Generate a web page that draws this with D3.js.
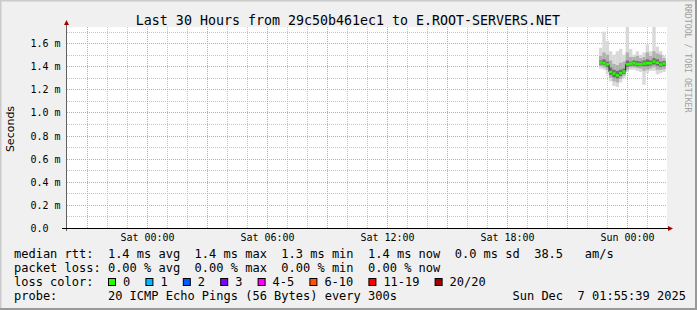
<!DOCTYPE html>
<html><head><meta charset="utf-8">
<script src="https://cdn.jsdelivr.net/npm/d3@7"></script>
<style>
html,body{margin:0;padding:0;background:#f0f0f0;}
svg{display:block;}
text{font-family:"DejaVu Sans Mono",monospace;fill:#000;}
</style>
</head><body>
<svg id="chart" width="697" height="310"></svg>
<script>
// ---------- data ----------
const titleText = "Last 30 Hours from 29c50b461ec1 to E.ROOT-SERVERS.NET";
const yAxisTitle = "Seconds";
const watermark = "RRDTOOL / TOBI OETIKER";
const yTickValues = [0, 0.2, 0.4, 0.6, 0.8, 1.0, 1.2, 1.4, 1.6];
const yTickLabels = ["0.0  ", "0.2 m", "0.4 m", "0.6 m", "0.8 m", "1.0 m", "1.2 m", "1.4 m", "1.6 m"];
const timeStart = new Date(2025, 11, 5, 20, 0);
const timeEnd = new Date(2025, 11, 7, 2, 0);
const sampleStart = new Date(2025, 11, 6, 22, 36);
const sampleStepMinutes = 10;
// RTT values in ms (axis shows "m" = milliseconds of seconds)
const rttMin    = [1.38,1.37,1.33,1.27,1.23,1.22,1.26,1.30,1.35,1.37,1.37,1.36,1.35,1.24,1.34,1.36,1.36,1.33,1.34,1.35];
const rttP10    = [1.40,1.39,1.37,1.30,1.27,1.26,1.29,1.32,1.37,1.39,1.39,1.385,1.38,1.36,1.37,1.38,1.39,1.37,1.37,1.375];
const rttP25    = [1.415,1.41,1.395,1.325,1.305,1.295,1.315,1.335,1.395,1.405,1.405,1.40,1.40,1.40,1.40,1.405,1.415,1.405,1.395,1.40];
const rttMedian = [1.432,1.426,1.417,1.35,1.337,1.322,1.34,1.354,1.417,1.423,1.426,1.42,1.417,1.423,1.426,1.426,1.44,1.43,1.415,1.423];
const rttP75    = [1.45,1.46,1.44,1.39,1.37,1.36,1.37,1.38,1.45,1.44,1.45,1.445,1.44,1.45,1.46,1.45,1.47,1.46,1.44,1.445];
const rttP90    = [1.49,1.52,1.50,1.45,1.42,1.41,1.43,1.44,1.52,1.48,1.48,1.49,1.47,1.48,1.52,1.49,1.53,1.51,1.50,1.47];
const rttMax    = [1.56,1.70,1.62,1.53,1.50,1.53,1.55,1.50,1.75,1.55,1.50,1.53,1.50,1.52,1.59,1.53,1.75,1.57,1.53,1.49];
const lossLabels = ["0", "1", "2", "3", "4-5", "6-10", "11-19", "20/20"];
const lossColors = ["#26ff00", "#00b8ff", "#0059ff", "#7e00ff", "#ff00ff", "#ff5500", "#ff0000", "#a10000"];
const legendLine1 = "median rtt:  1.4 ms avg  1.4 ms max  1.3 ms min  1.4 ms now  0.0 ms sd  38.5   am/s";
const legendLine2 = "packet loss: 0.00 % avg  0.00 % max  0.00 % min  0.00 % now";
const legendLossTitle = "loss color:";
const legendProbe = "probe:       20 ICMP Echo Pings (56 Bytes) every 300s";
const legendDate = "Sun Dec  7 01:55:39 2025";

// ---------- drawing ----------
const svg = d3.select("#chart");
const W = 697, H = 310;
const L = 67, R = 667, T = 27, B = 228;

svg.append("rect").attr("width", W).attr("height", H).attr("fill", "#f0f0f0");
// frame shading
svg.append("path").attr("d", `M0.5,${H} V0.5 H${W}`).attr("stroke", "#cbcbcb").attr("stroke-width", 2).attr("fill", "none");
svg.append("path").attr("d", `M0,${H-1} H${W-1} V0`).attr("stroke", "#999999").attr("stroke-width", 2).attr("fill", "none");

const x = d3.scaleTime().domain([timeStart, timeEnd]).range([L, R]);
const y = d3.scaleLinear().domain([0, 1.74]).range([B, T]);
const px = v => Math.round(x(v)) + 0.5;
const py = v => Math.round(y(v)) + 0.5;

svg.append("rect").attr("x", L).attr("y", T).attr("width", R - L).attr("height", B - T).attr("fill", "#ffffff");

const g = svg.append("g");
// minor grid
const minorX = d3.timeHour.every(1).range(timeStart, timeEnd).filter(d => d > timeStart);
const majorX = d3.timeHour.every(3).range(timeStart, timeEnd).filter(d => d > timeStart);
const minorY = d3.range(1, 18).map(i => i * 0.1).filter(v => y(v) > T);
g.selectAll(".mx").data(minorX).join("line")
  .attr("x1", d => px(d)).attr("x2", d => px(d)).attr("y1", T).attr("y2", B)
  .attr("stroke", "#c4c4c4").attr("stroke-dasharray", "1,1");
g.selectAll(".my").data(minorY).join("line")
  .attr("x1", L).attr("x2", R).attr("y1", d => py(d)).attr("y2", d => py(d))
  .attr("stroke", "#c4c4c4").attr("stroke-dasharray", "1,1");
// major grid
g.selectAll(".Mx").data(majorX).join("line")
  .attr("x1", d => px(d)).attr("x2", d => px(d)).attr("y1", T).attr("y2", B)
  .attr("stroke", "#e89a9a").attr("stroke-dasharray", "1,1");
g.selectAll(".My").data(yTickValues.filter(v => v > 0)).join("line")
  .attr("x1", L).attr("x2", R).attr("y1", d => py(d)).attr("y2", d => py(d))
  .attr("stroke", "#e89a9a").attr("stroke-dasharray", "1,1");

// samples
const samples = rttMedian.map((m, i) => ({
  t0: d3.timeMinute.offset(sampleStart, i * sampleStepMinutes),
  t1: d3.timeMinute.offset(sampleStart, (i + 1) * sampleStepMinutes),
  min: rttMin[i], p10: rttP10[i], p25: rttP25[i], med: m, p75: rttP75[i], p90: rttP90[i], max: rttMax[i]
}));
const bands = [["min", "max", "#d9d9d9"], ["p10", "p90", "#b0b0b0"], ["p25", "p75", "#707070"]];
bands.forEach(([lo, hi, col]) => {
  g.selectAll(null).data(samples).join("rect")
    .attr("x", d => x(d.t0)).attr("width", d => x(d.t1) - x(d.t0))
    .attr("y", d => y(Math.min(d[hi], 1.74))).attr("height", d => y(d[lo]) - y(Math.min(d[hi], 1.74)))
    .attr("fill", col);
});
// median step line (dark)
const stepLine = d3.line().curve(d3.curveStepAfter).x(d => d[0]).y(d => d[1]);
const pts = samples.map(d => [x(d.t0), y(d.med)]);
pts.push([x(samples[samples.length - 1].t1), y(samples[samples.length - 1].med)]);
g.append("path").attr("d", stepLine(pts)).attr("fill", "none").attr("stroke", "#202020").attr("stroke-width", 1);
// loss-colored median segments
g.selectAll(null).data(samples).join("line")
  .attr("x1", d => x(d.t0)).attr("x2", d => x(d.t1))
  .attr("y1", d => y(d.med)).attr("y2", d => y(d.med))
  .attr("stroke", lossColors[0]).attr("stroke-width", 2.5);

// axes
svg.append("line").attr("x1", L - 0.5).attr("x2", L - 0.5).attr("y1", 23).attr("y2", B + 3)
  .attr("stroke", "#606060");
svg.append("line").attr("x1", L - 5).attr("x2", R + 2).attr("y1", B + 0.5).attr("y2", B + 0.5)
  .attr("stroke", "#000");
svg.append("path").attr("d", `M${L - 3},25 L${L - 0.5},20 L${L + 2},25 Z`).attr("fill", "#a00000");
svg.append("path").attr("d", `M${R + 1},${B - 2} L${R + 6},${B + 0.5} L${R + 1},${B + 3} Z`).attr("fill", "#a00000");

// y labels
svg.selectAll(".yl").data(yTickValues).join("text")
  .attr("x", 30.5).attr("y", d => py(d) + 3.5)
  .attr("font-size", "10px").attr("xml:space", "preserve")
  .style("white-space", "pre")
  .text((d, i) => yTickLabels[i]);
// x labels
const labelTicks = d3.timeHour.every(6).range(timeStart, timeEnd).filter(d => d > timeStart);
svg.selectAll(".xl").data(labelTicks).join("text")
  .attr("x", d => px(d)).attr("y", 241).attr("text-anchor", "middle")
  .attr("font-size", "10px")
  .text(d3.timeFormat("%a %H:%M"));

// title
svg.append("text").attr("x", 348).attr("y", 24.5).attr("text-anchor", "middle")
  .attr("font-size", "13.3px").text(titleText);
// y axis title
svg.append("text").attr("transform", "translate(14,129) rotate(-90)")
  .attr("text-anchor", "middle").style("font-family", "'DejaVu Sans',sans-serif")
  .attr("font-size", "11px").text(yAxisTitle);
// watermark
svg.append("text").attr("transform", "translate(685,4) rotate(90)")
  .attr("font-size", "8.2px").style("fill", "#a0a0a0").text(watermark);

// legend
const leg = svg.append("g").attr("font-size", "12px");
const addLine = (s, xx, yy) => leg.append("text").attr("x", xx).attr("y", yy)
  .attr("xml:space", "preserve").style("white-space", "pre").text(s);
addLine(legendLine1, 14, 258);
addLine(legendLine2, 14, 272);
addLine(legendLossTitle, 14, 286);
addLine(legendProbe, 14, 300);
addLine(legendDate, 512.5, 300);
let lx = 108.5;
lossLabels.forEach((lab, i) => {
  leg.append("rect").attr("x", lx).attr("y", 278.5).attr("width", 7).attr("height", 7)
    .attr("fill", lossColors[i]).attr("stroke", "#000").attr("stroke-width", 1);
  leg.append("text").attr("x", lx + 14.5).attr("y", 286).text(lab);
  lx += 30.2 + lab.length * 7.2;
});
</script>
</body></html>
